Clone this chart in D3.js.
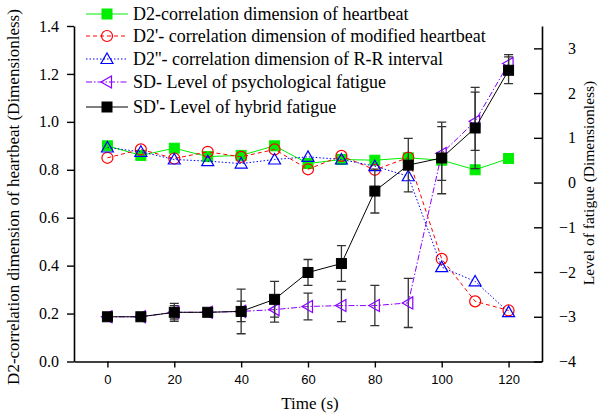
<!DOCTYPE html>
<html lang="en">
<head>
    <meta charset="UTF-8">
    <title>correlation dimension and fatigue</title>
    <script src="https://d3js.org/d3.v7.min.js"></script>
    <style>
        body { margin: 0; background: #fff; }
    </style>
</head>
<body>
    <svg width="610" height="416"></svg>
    <script>
        // data
        const time = [0, 10, 20, 30, 40, 50, 60, 70, 80, 90, 100, 110, 120];
        const d2 = [0.90, 0.86, 0.89, 0.855, 0.86, 0.90, 0.826, 0.843, 0.84, 0.85, 0.84, 0.80, 0.847];
        const d2Mod = [0.85, 0.885, 0.847, 0.875, 0.854, 0.885, 0.802, 0.858, 0.80, 0.851, 0.428, 0.251, 0.213];
        const d2RR = [0.893, 0.875, 0.843, 0.836, 0.826, 0.843, 0.854, 0.843, 0.815, 0.773, 0.394, 0.334, 0.206];
        const sdPsych = [-3.0, -3.0, -2.9, -2.9, -2.88, -2.84, -2.77, -2.75, -2.75, -2.69, 0.65, 1.37, 2.66];
        const sdPsychErr = [0, 0, 0.15, 0, 0.23, 0.28, 0.3, 0.36, 0.45, 0.55, 0.6, 0.65, 0.2];
        const sdHybrid = [-3.0, -3.0, -2.9, -2.9, -2.88, -2.61, -2.01, -1.81, -0.19, 0.39, 0.55, 1.22, 2.51];
        const sdHybridErr = [0, 0, 0.2, 0, 0.5, 0.4, 0.29, 0.4, 0.49, 0.6, 0.8, 0.91, 0.3];
        const leftTicks = [0, 0.2, 0.4, 0.6, 0.8, 1.0, 1.2, 1.4];
        const rightTicks = [-4, -3, -2, -1, 0, 1, 2, 3];
        const xTicks = [0, 20, 40, 60, 80, 100, 120];
        const legendNames = [
            "D2-correlation dimension of heartbeat",
            "D2'- correlation dimension of modified heartbeat",
            "D2''- correlation dimension of R-R interval",
            "SD- Level of psychological fatigue",
            "SD'- Level of hybrid fatigue"
        ];

        const SERIF = 'Liberation Serif';
        const SANS = 'Liberation Sans';

        const svg = d3.select('svg');
        const margin = {top: 26, bottom: 361.5, left: 74, right: 542};

        const x = d3.scaleLinear().domain([-10, 130]).range([margin.left, margin.right]);
        const yL = d3.scaleLinear().domain([0, 1.4]).range([margin.bottom, margin.top]);
        const yR = d3.scaleLinear().domain([-4, 3.5]).range([margin.bottom, margin.top]);

        // axes
        const minorX = d3.range(-10, 131, 10).filter(v => v % 20 !== 0);
        const gx = svg.append('g').attr('transform', `translate(0,${margin.bottom})`);
        gx.call(d3.axisBottom(x).tickValues(minorX).tickSize(4).tickSizeOuter(0).tickFormat(''));
        gx.call(d3.axisBottom(x).tickValues(xTicks).tickSize(6).tickSizeOuter(0).tickPadding(7));
        gx.attr('font-family', SANS).attr('font-size', 13);
        gx.selectAll('text').attr('font-family', SANS).attr('fill', '#000');

        const gl = svg.append('g').attr('transform', `translate(${margin.left},0)`);
        gl.call(d3.axisLeft(yL).tickValues(d3.range(0.1, 1.4, 0.2)).tickSize(4).tickSizeOuter(0).tickFormat(''));
        gl.call(d3.axisLeft(yL).tickValues(leftTicks).tickSize(7).tickSizeOuter(0).tickPadding(8).tickFormat(d3.format('.1f')));
        gl.attr('font-family', SERIF).attr('font-size', 16);
        gl.selectAll('text').attr('font-family', SERIF);

        const gr = svg.append('g').attr('transform', `translate(${margin.right},0)`);
        gr.call(d3.axisRight(yR).tickValues(d3.range(-3.5, 3.6, 1)).tickSize(-4.5).tickSizeOuter(0).tickFormat(''));
        gr.call(d3.axisRight(yR).tickValues(rightTicks).tickSize(-8).tickSizeOuter(0).tickFormat(d3.format('d')));
        gr.attr('font-family', SERIF).attr('font-size', 16);
        gr.selectAll('text').attr('x', 34).attr('text-anchor', 'end').attr('font-family', SERIF);
        svg.selectAll('.domain').attr('stroke-width', 1.6);
        svg.selectAll('.tick line').attr('stroke-width', 1.4);

        // titles
        svg.append('text').attr('transform', 'translate(19,197) rotate(-90)')
            .attr('text-anchor', 'middle').attr('font-family', SERIF).attr('font-size', 17)
            .text('D2-correlation dimension of heartbeat (Dimensionless)');
        svg.append('text').attr('transform', 'translate(594,183) rotate(-90)')
            .attr('text-anchor', 'middle').attr('font-family', SERIF).attr('font-size', 15.5)
            .text('Level of fatigue (Dimensionless)');
        svg.append('text').attr('x', 310).attr('y', 409)
            .attr('text-anchor', 'middle').attr('font-family', SERIF).attr('font-size', 17)
            .text('Time (s)');

        // series
        const series = [
            {vals: d2, y: yL, color: '#00ee00', dash: null, marker: 'square', fill: '#00ee00'},
            {vals: d2Mod, y: yL, color: '#ff0000', dash: '4,3', marker: 'circle', fill: 'none'},
            {vals: d2RR, y: yL, color: '#0000ff', dash: '1.5,2', marker: 'triangle', fill: 'none'},
            {vals: sdPsych, y: yR, color: '#8800ff', dash: '6,2,1.5,2', marker: 'ltriangle', fill: 'none', err: sdPsychErr},
            {vals: sdHybrid, y: yR, color: '#000000', dash: null, marker: 'square', fill: '#000', err: sdHybridErr}
        ];

        function drawMarker(g, type, cx, cy, color, fill) {
            if (type === 'square') {
                g.append('rect').attr('x', cx - 5).attr('y', cy - 5).attr('width', 10).attr('height', 10)
                    .attr('fill', fill).attr('stroke', color);
            } else if (type === 'circle') {
                g.append('circle').attr('cx', cx).attr('cy', cy).attr('r', 5.5)
                    .attr('fill', 'none').attr('stroke', color).attr('stroke-width', 1.2);
            } else if (type === 'triangle') {
                g.append('path').attr('d', `M${cx},${cy - 6}L${cx + 6},${cy + 4.5}L${cx - 6},${cy + 4.5}Z`)
                    .attr('fill', 'none').attr('stroke', color).attr('stroke-width', 1.2);
            } else {
                g.append('path').attr('d', `M${cx - 6},${cy}L${cx + 4.5},${cy - 6}L${cx + 4.5},${cy + 6}Z`)
                    .attr('fill', 'none').attr('stroke', color).attr('stroke-width', 1.2);
            }
        }

        series.forEach(s => {
            const g = svg.append('g');
            const line = d3.line().x((d, i) => x(time[i])).y(d => s.y(d));
            if (s.err) {
                s.vals.forEach((v, i) => {
                    const e = s.err[i];
                    if (!e) return;
                    const cx = x(time[i]), y0 = s.y(v - e), y1 = s.y(v + e);
                    g.append('path').attr('d', `M${cx},${y0}V${y1}M${cx - 4.5},${y0}H${cx + 4.5}M${cx - 4.5},${y1}H${cx + 4.5}`)
                        .attr('stroke', '#333').attr('stroke-width', 1.3).attr('fill', 'none');
                });
            }
            g.append('path').datum(s.vals).attr('d', line)
                .attr('fill', 'none').attr('stroke', s.color).attr('stroke-width', 1)
                .attr('stroke-dasharray', s.dash);
            s.vals.forEach((v, i) => drawMarker(g, s.marker, x(time[i]), s.y(v), s.color, s.fill));
        });

        // legend
        const legendY = [14, 36, 59, 82, 107];
        series.forEach((s, i) => {
            const g = svg.append('g');
            g.append('line').attr('x1', 86).attr('x2', 128).attr('y1', legendY[i]).attr('y2', legendY[i])
                .attr('stroke', s.color).attr('stroke-dasharray', s.dash);
            drawMarker(g, s.marker, 107, legendY[i], s.color, s.fill);
            g.append('text').attr('x', 133).attr('y', legendY[i] + 6)
                .attr('font-family', SERIF).attr('font-size', 18).text(legendNames[i]);
        });
    </script>
</body>
</html>
